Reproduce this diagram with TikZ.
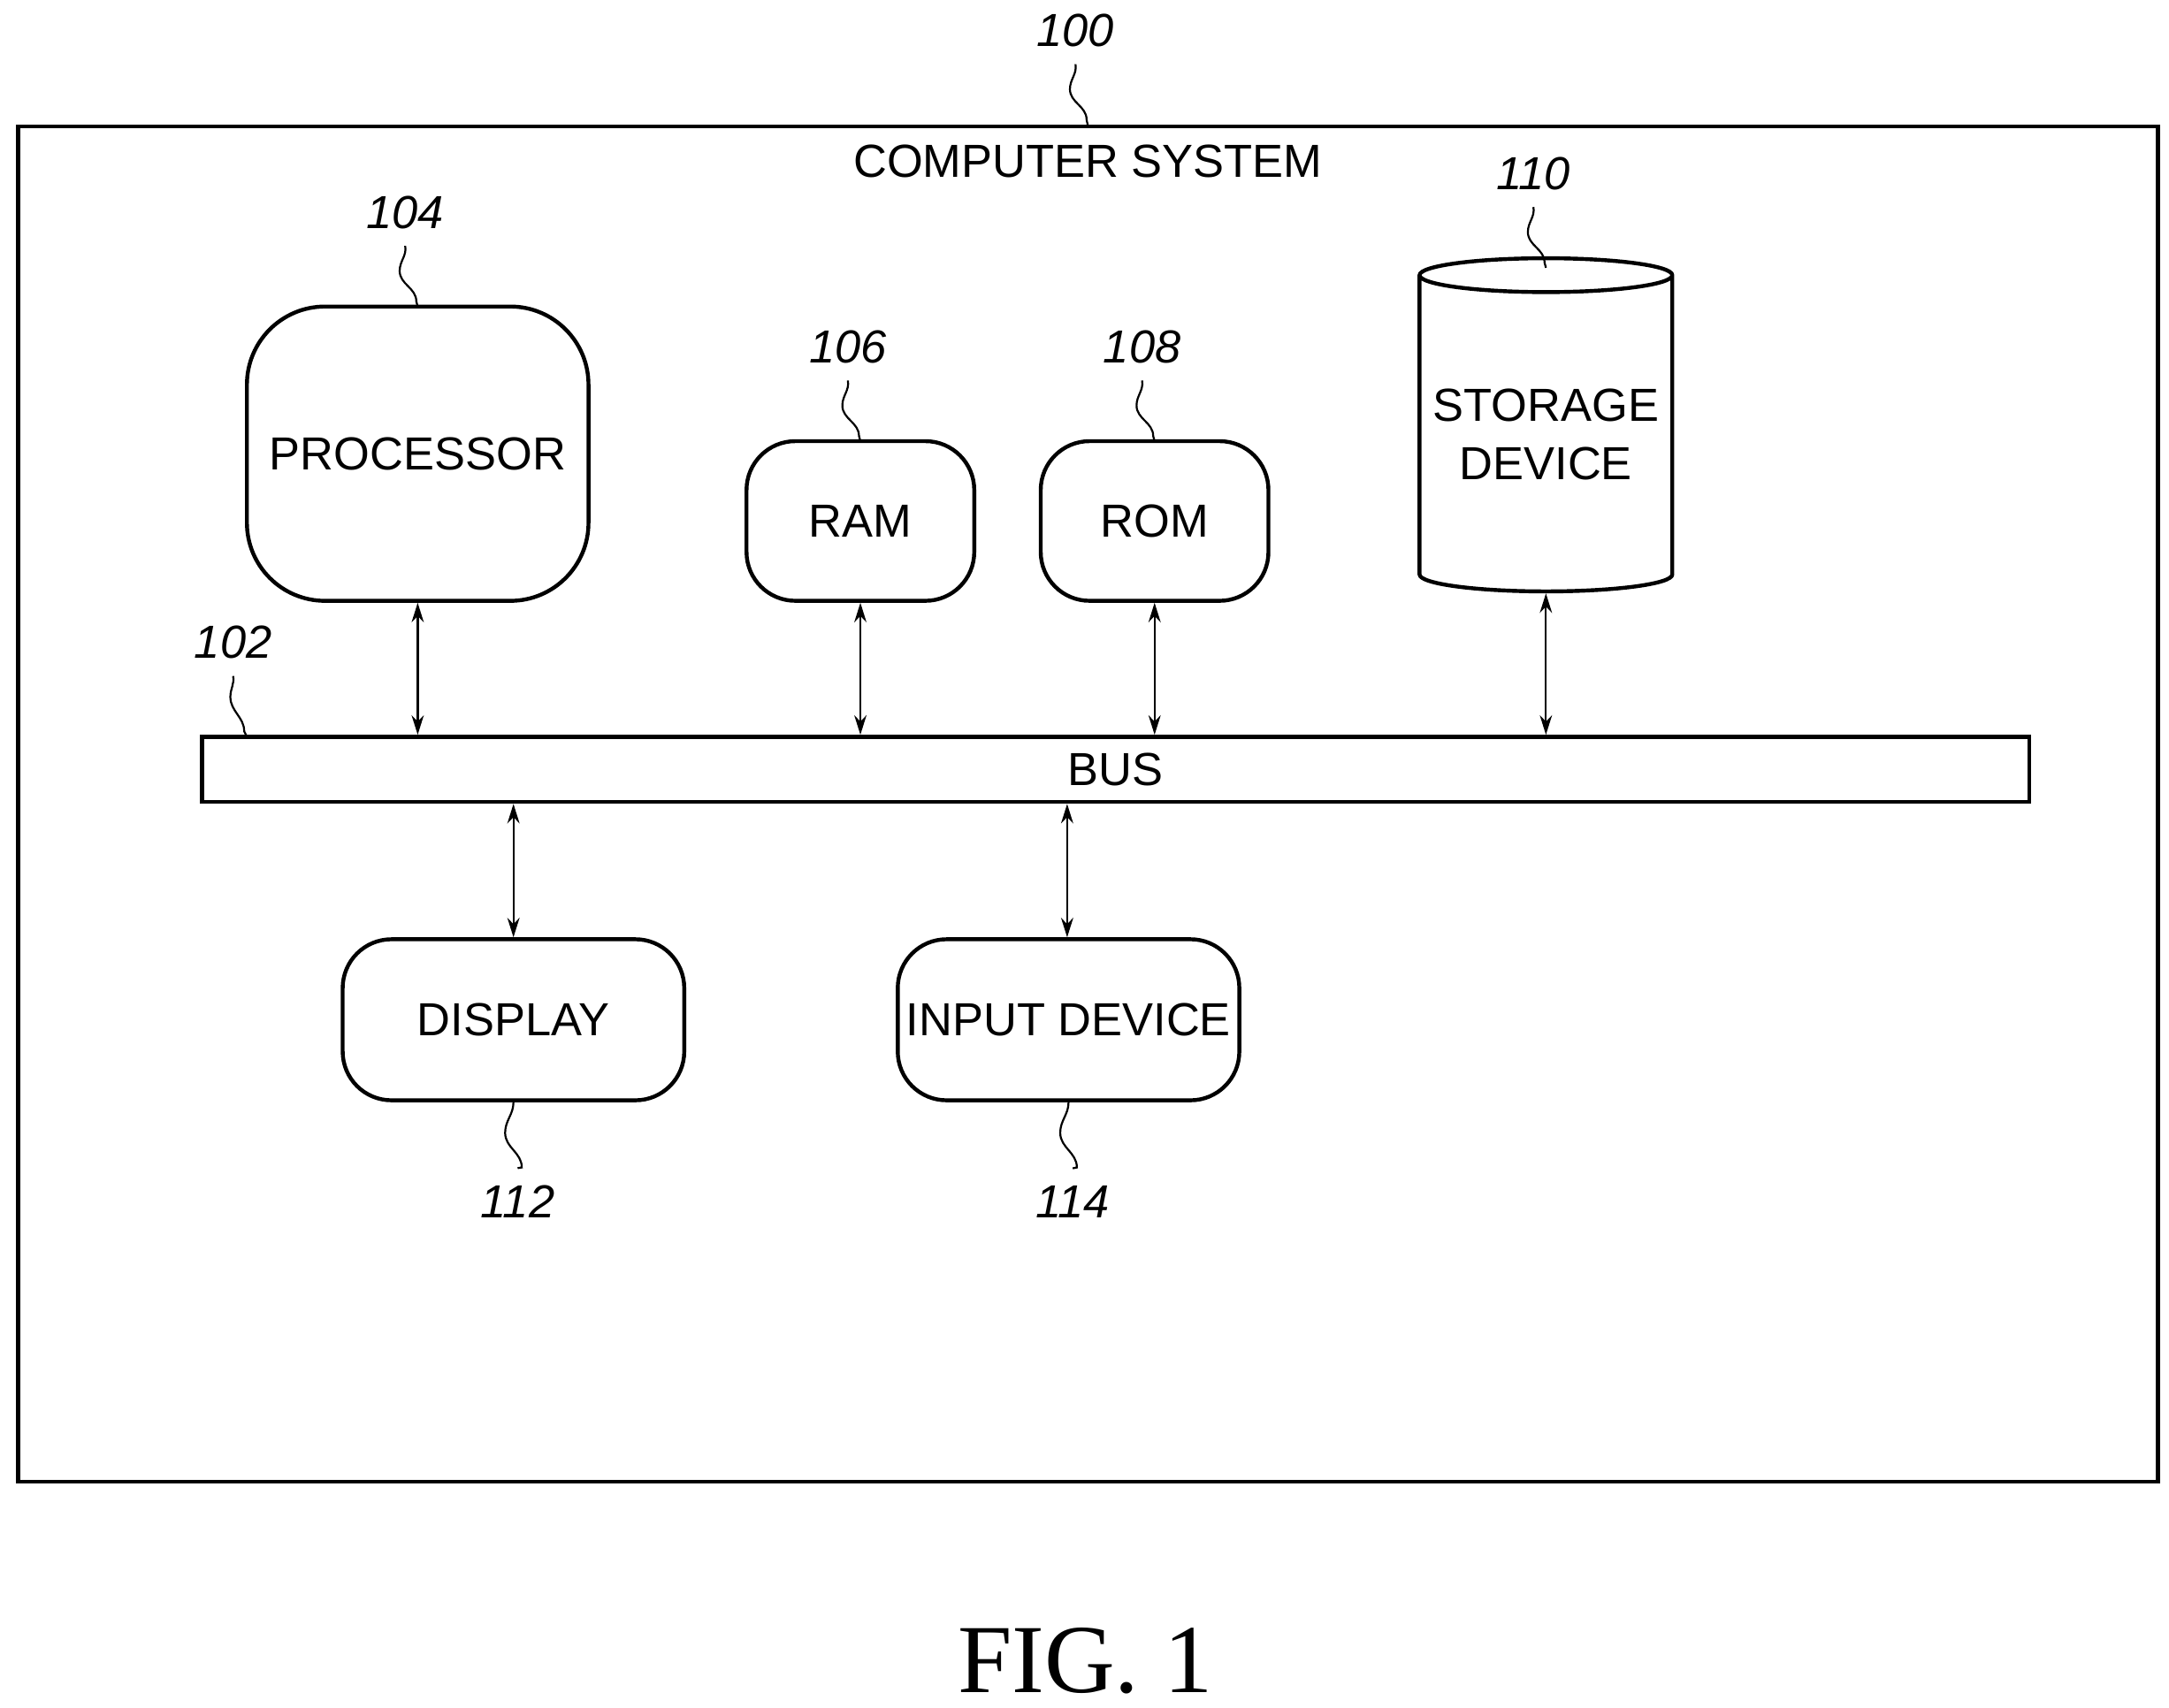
\documentclass[tikz,border=0pt]{standalone}
\usepackage{fontspec}
\setmainfont{Liberation Serif}
\setsansfont{Liberation Sans}
\usetikzlibrary{arrows.meta,shapes.geometric}
\tikzset{
  lbl/.style={font=\sffamily\fontsize{9.5}{12}\selectfont},
  blk/.style={draw, thick, rounded corners=10pt, lbl, align=center, inner sep=0pt},
  num/.style={font=\sffamily\itshape\fontsize{9.5}{12}\selectfont},
  link/.style={{Stealth[length=4pt,width=2.5pt]}-{Stealth[length=4pt,width=2.5pt]}, thin},
  lead/.style={thin}
}
\begin{document}
\begin{tikzpicture}[x=0.01cm,y=-0.01cm]
  \useasboundingbox (0,0) rectangle (1563,1231);
  % frame
  \draw[thick] (13,91) rectangle (1555,1068);
  \node[lbl] (title) at (784,116) {COMPUTER SYSTEM};
  % blocks
  \node[blk, rounded corners=16pt, minimum width=2.46cm, minimum height=2.12cm] (proc) at (301,327) {PROCESSOR};
  \node[blk, minimum width=1.64cm, minimum height=1.15cm] (ram) at (620,375.5) {RAM};
  \node[blk, minimum width=1.64cm, minimum height=1.15cm] (rom) at (832,375.5) {ROM};
  \node[draw, thick, cylinder, shape border rotate=90, aspect=0.15, inner sep=0pt,
        minimum width=1.82cm, minimum height=2.40cm, lbl, align=center]
        (stor) at (1114,313) {STORAGE\\DEVICE};
  \node[draw, thick, minimum width=13.16cm, minimum height=0.47cm, inner sep=0pt, lbl] (bus) at (804,554.5) {BUS};
  \node[blk, minimum width=2.46cm, minimum height=1.16cm] (disp) at (370,735) {DISPLAY};
  \node[blk, minimum width=2.46cm, minimum height=1.16cm] (inp) at (770,735) {INPUT DEVICE};
  % connections to bus
  \foreach \blk/\x in {proc/301, ram/620, rom/832, stor/1114}
    \draw[link] (\blk.south -| \x,0) -- (bus.north -| \x,0);
  \foreach \blk/\x in {disp/370, inp/769}
    \draw[link] (bus.south -| \x,0) -- (\blk.north -| \x,0);
  % reference numerals
  \foreach \n/\x/\y/\tx/\ty in {100/775/22/784/91, 104/292/153/301/221,
      106/611/250/620/318, 108/823/250/832/318, 110/1105/125/1114/193} {
    \node[num] (n\n) at (\x,\y) {\n};
    \coordinate (t\n) at (\tx,\ty);
    \draw[lead] (n\n.south) to[out=-80,in=90] ++(-4,18) to[out=-90,in=90] ++(12,22) -- (t\n);
  }
  \node[num] (n102) at (168,463) {102};
  \coordinate (t102) at (178,531);
  \draw[lead] (n102.south) to[out=-80,in=90] ++(-2,15) to[out=-90,in=90] ++(10,25) -- (t102);
  \foreach \n/\x/\blk in {112/373/disp, 114/773/inp} {
    \node[num] (n\n) at (\x,866) {\n};
    \draw[lead] (\blk.south -| \x,0) ++(-3,0) to[out=-90,in=90] ++(-6,22) to[out=-90,in=90] ++(12,25) -- (n\n.north);
  }
  \node[font=\fontsize{20}{24}\selectfont] (fig) at (782,1197) {FIG. 1};
\end{tikzpicture}
\end{document}
